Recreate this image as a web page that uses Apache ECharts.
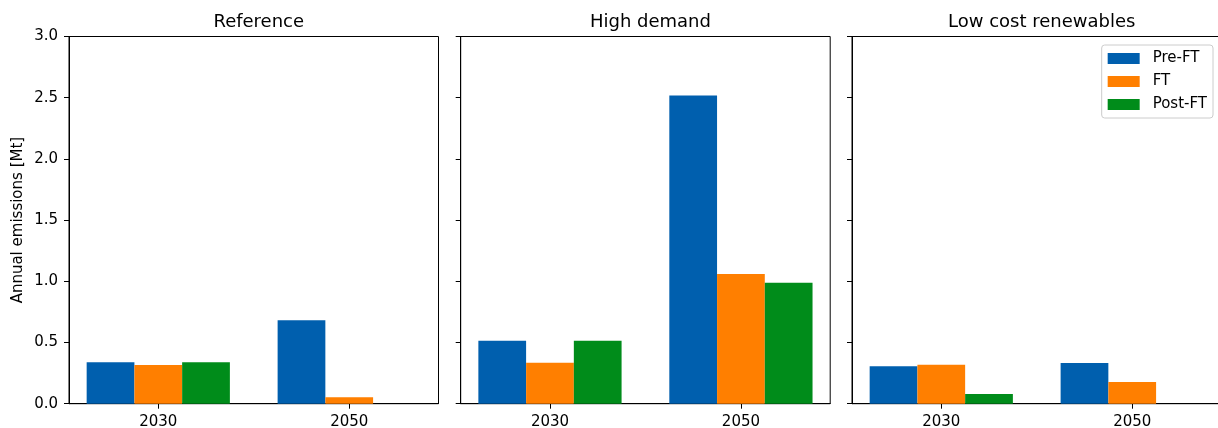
<!DOCTYPE html>
<html>
<head>
<meta charset="utf-8">
<script src="https://cdn.jsdelivr.net/npm/echarts@6/dist/echarts.min.js"></script>
<style>
  html, body { margin: 0; padding: 0; background: #fff; }
  #chart { width: 1218px; height: 428px; }
</style>
</head>
<body>
<div id="chart"></div>
<script>
// Annual emissions by scenario, year and stage
const scenarios = ['Reference', 'High demand', 'Low cost renewables'];
const years = ['2030', '2050'];
const stages = ['Pre-FT', 'FT', 'Post-FT'];
// values per scenario: [2030, 2050]
const preFT  = [[0.338, 0.681], [0.514, 2.518], [0.305, 0.332]];
const ft     = [[0.316, 0.052], [0.335, 1.059], [0.318, 0.177]];
const postFT = [[0.338, 0.000], [0.514, 0.988], [0.079, 0.000]];
const yTicks = [0, 0.5, 1.0, 1.5, 2.0, 2.5, 3.0];

const stageValues = [preFT, ft, postFT];
const colors = ['#005FAE', '#FF7F00', '#008C1A'];
const font = 'DejaVu Sans';

const panelLeft = [69, 460.7, 852];
const panelWidth = 369.5;
const panelTop = 36.5;
const panelHeight = 367.2;
const xMin = -0.4675, xMax = 1.4675;
const barPx = 0.25 * panelWidth / (xMax - xMin);

const grids = [], xAxes = [], yAxes = [], titles = [], series = [];
scenarios.forEach((name, i) => {
  grids.push({
    left: panelLeft[i], top: panelTop, width: panelWidth, height: panelHeight,
    outerBoundsMode: 'none', containLabel: false,
    show: true, borderColor: '#000', borderWidth: 1, backgroundColor: 'transparent'
  });
  titles.push({
    text: name, left: panelLeft[i] + panelWidth / 2, top: 8, textAlign: 'center',
    textStyle: { fontFamily: font, fontSize: 18, fontWeight: 'normal', color: '#000' }
  });
  xAxes.push({
    type: 'value', gridIndex: i, min: xMin, max: xMax,
    axisLine: { show: true, onZero: false, lineStyle: { color: '#000', width: 1 } },
    axisTick: { show: true, length: 5, customValues: [0, 1], lineStyle: { color: '#000' } },
    axisLabel: {
      customValues: [0, 1], margin: 11,
      formatter: v => years[Math.round(v)],
      fontFamily: font, fontSize: 15, color: '#000'
    },
    splitLine: { show: false }
  });
  yAxes.push({
    type: 'value', gridIndex: i, min: 0, max: 3, interval: 0.5,
    name: i === 0 ? 'Annual emissions [Mt]' : '',
    nameLocation: 'middle', nameGap: 43,
    nameTextStyle: { fontFamily: font, fontSize: 15, color: '#000' },
    axisLine: { show: true, onZero: false, lineStyle: { color: '#000', width: 1 } },
    axisTick: { show: true, length: 5, lineStyle: { color: '#000' } },
    axisLabel: {
      show: i === 0, margin: 11,
      formatter: v => v.toFixed(1),
      fontFamily: font, fontSize: 15, color: '#000'
    },
    splitLine: { show: false }
  });
  stages.forEach((stage, s) => {
    series.push({
      name: stage, type: 'bar', xAxisIndex: i, yAxisIndex: i,
      barWidth: barPx, barGap: '0%',
      itemStyle: { color: colors[s] },
      data: years.map((y, k) => [k, stageValues[s][i][k]])
    });
  });
});

const chart = echarts.init(document.getElementById('chart'), null, { renderer: 'canvas' });
chart.setOption({
  animation: false,
  color: colors,
  title: titles,
  grid: grids,
  xAxis: xAxes,
  yAxis: yAxes,
  legend: {
    data: stages, orient: 'vertical', right: 5, top: 45,
    itemWidth: 32, itemHeight: 11, itemGap: 6,
    padding: [5, 6, 5, 6],
    borderColor: '#cccccc', borderWidth: 1, borderRadius: 3,
    backgroundColor: '#fff',
    textStyle: { fontFamily: font, fontSize: 15, color: '#000', lineHeight: 17, padding: [0, 0, 0, 8] },
    icon: 'rect'
  },
  series: series
});
</script>
</body>
</html>
